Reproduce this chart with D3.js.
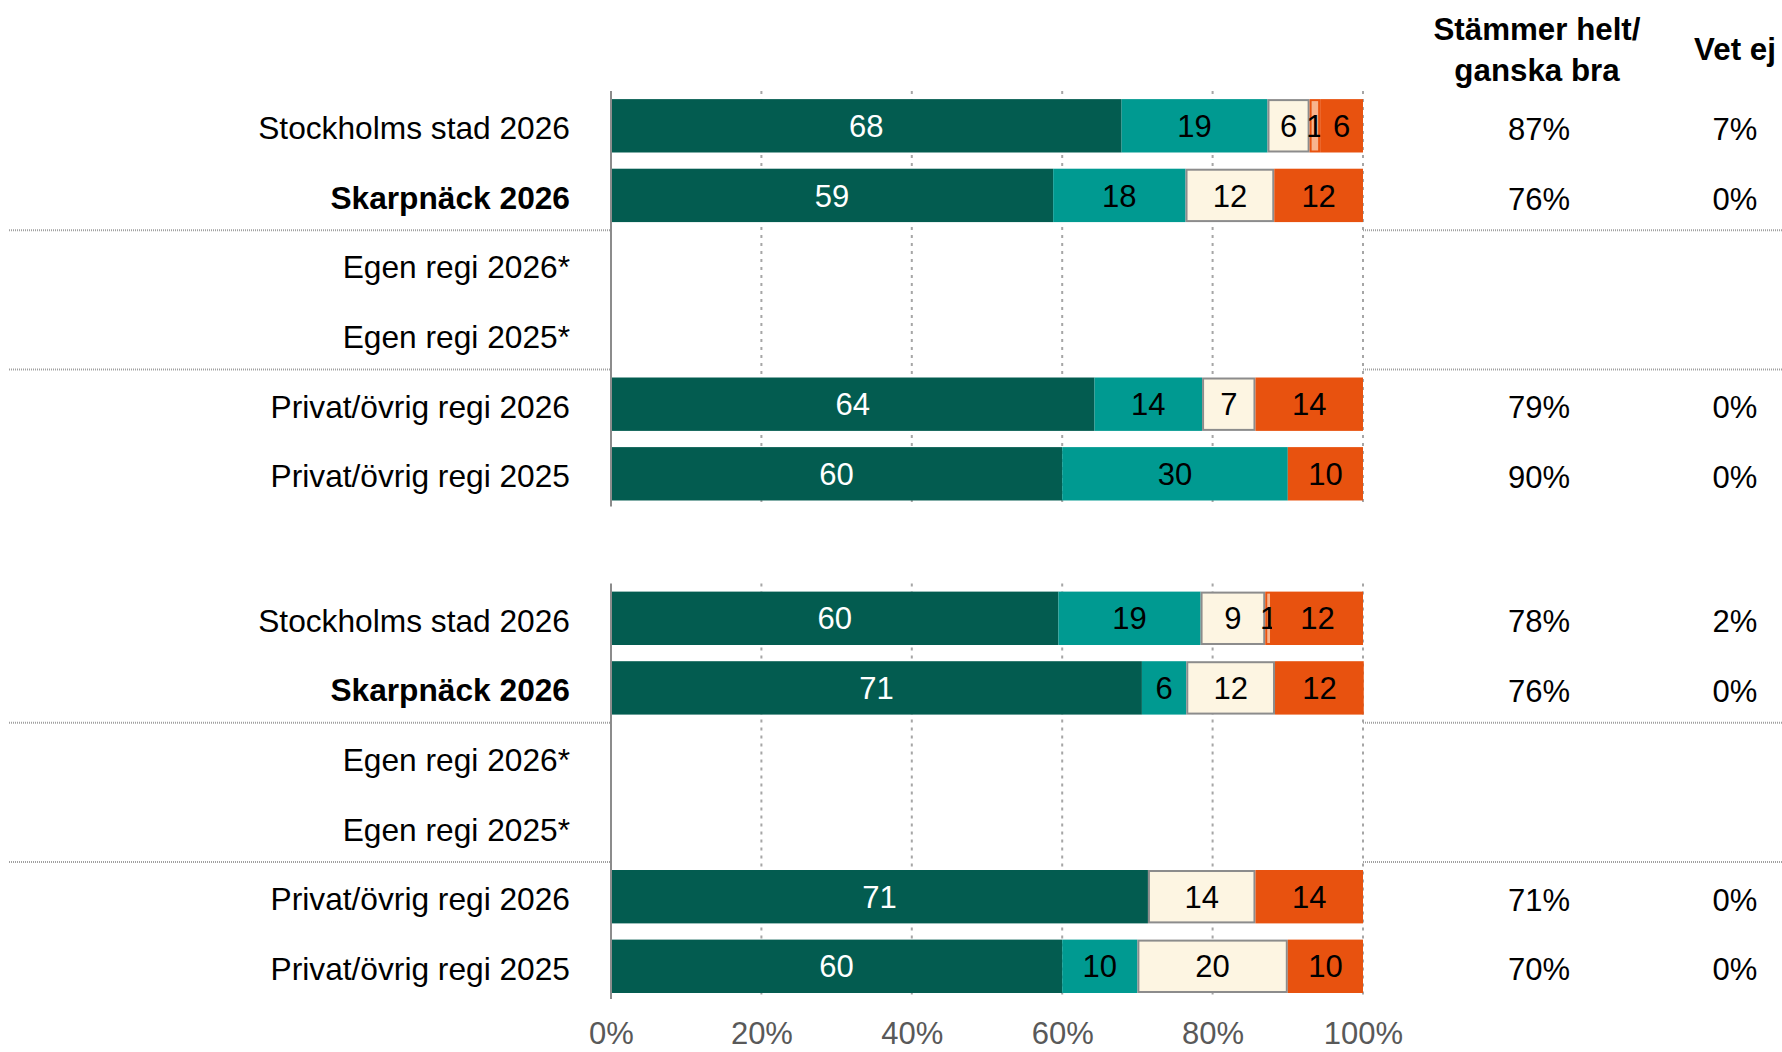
<!DOCTYPE html>
<html>
<head>
<meta charset="utf-8">
<script src="https://cdn.jsdelivr.net/npm/d3@7"></script>
<style>
  html, body { margin: 0; padding: 0; background: #ffffff; }
  svg { display: block; font-family: "Liberation Sans", Arial, sans-serif; }
</style>
</head>
<body>
<svg id="chart" width="1782" height="1052"></svg>
<script>
// ---------- DATA ----------
const categories = ["Stockholms stad 2026", "Skarpnäck 2026", "Egen regi 2026*", "Egen regi 2025*", "Privat/övrig regi 2026", "Privat/övrig regi 2025"];
const boldCategory = "Skarpnäck 2026";
const seriesKeys = ["s1", "s2", "s3", "s4", "s5"];

// Panel 1
const p1_s1 = [67.9, 58.8, null, null, 64.3, 60];
const p1_s2 = [19.4, 17.6, null, null, 14.3, 30];
const p1_s3 = [5.6, 11.8, null, null, 7.1, 0];
const p1_s4 = [1.4, 0, null, null, 0, 0];
const p1_s5 = [5.7, 11.8, null, null, 14.3, 10];
const p1_total = ["87%", "76%", "", "", "79%", "90%"];
const p1_vetej = ["7%", "0%", "", "", "0%", "0%"];

// Panel 2
const p2_s1 = [59.5, 70.6, null, null, 71.4, 60];
const p2_s2 = [18.9, 5.9, null, null, 0, 10];
const p2_s3 = [8.6, 11.8, null, null, 14.3, 20];
const p2_s4 = [0.9, 0, null, null, 0, 0];
const p2_s5 = [12.1, 11.8, null, null, 14.3, 10];
const p2_total = ["78%", "76%", "", "", "71%", "70%"];
const p2_vetej = ["2%", "0%", "", "", "0%", "0%"];

const xTicks = [0, 20, 40, 60, 80, 100];
const headerTotal = ["Stämmer helt/", "ganska bra"];
const headerVetej = "Vet ej";

// ---------- STYLE ----------
const colors = { s1: "#035c50", s2: "#009a91", s3: "#fdf5e2", s4: "#f8b48e", s5: "#e8520f" };
const strokes = { s1: "none", s2: "none", s3: "#8c8c8c", s4: "#e8520f", s5: "none" };
const textColors = { s1: "#ffffff", s2: "#000000", s3: "#000000", s4: "#000000", s5: "#000000" };
const FONT = 31;
const CAT_FONT = 31.7;

const svg = d3.select("#chart");
const x = d3.scaleLinear().domain([0, 100]).range([611, 1363]);

const panels = [
  { range: [91, 508.6], s: [p1_s1, p1_s2, p1_s3, p1_s4, p1_s5], total: p1_total, vetej: p1_vetej },
  { range: [583.5, 1001.1], s: [p2_s1, p2_s2, p2_s3, p2_s4, p2_s5], total: p2_total, vetej: p2_vetej }
];

const stack = d3.stack().keys(seriesKeys);

panels.forEach(p => {
  const y = d3.scaleBand().domain(categories).range(p.range).paddingInner(0.233).paddingOuter(0.1165);
  const g = svg.append("g");

  // gridlines
  g.selectAll("line.grid").data(xTicks.filter(t => t > 0)).join("line")
    .attr("class", "grid")
    .attr("x1", d => x(d)).attr("x2", d => x(d))
    .attr("y1", p.range[0]).attr("y2", p.range[1] - 2)
    .attr("stroke", "#a6a6a6").attr("stroke-width", 2).attr("stroke-dasharray", "3,5");

  // separators
  const sepIdx = [1, 3];
  sepIdx.forEach(i => {
    const yy = y(categories[i]) + y.bandwidth() + (y.step() - y.bandwidth()) / 2;
    [[9, x(0)], [x(100), 1782]].forEach(([a, b]) => {
      g.append("line").attr("x1", a).attr("x2", b).attr("y1", yy).attr("y2", yy)
        .attr("stroke", "#a0a0a0").attr("stroke-width", 2).attr("stroke-dasharray", "1,1");
    });
  });

  // data rows
  const rows = categories.map((c, i) => {
    const o = { cat: c };
    seriesKeys.forEach((k, j) => { o[k] = p.s[j][i] == null ? 0 : p.s[j][i]; });
    return o;
  });
  const stacked = stack(rows);

  stacked.forEach(layer => {
    const k = layer.key;
    const lg = g.append("g");
    const segs = layer.filter(d => d[1] - d[0] > 0);
    const sw = strokes[k] === "none" ? 0 : 2;
    lg.selectAll("rect").data(segs).join("rect")
      .attr("x", d => x(d[0]) + sw / 2)
      .attr("y", d => y(d.data.cat) + sw / 2)
      .attr("width", d => Math.max(0, x(d[1]) - x(d[0]) - sw))
      .attr("height", y.bandwidth() - sw)
      .attr("fill", colors[k])
      .attr("stroke", strokes[k])
      .attr("stroke-width", sw);
    lg.selectAll("text").data(segs).join("text")
      .attr("x", d => (x(d[0]) + x(d[1])) / 2)
      .attr("y", d => y(d.data.cat) + y.bandwidth() / 2)
      .attr("dy", "0.36em")
      .attr("text-anchor", "middle")
      .attr("font-size", FONT)
      .attr("fill", textColors[k])
      .text(d => Math.round(d[1] - d[0]));
  });

  // vertical axis line
  g.append("line").attr("x1", x(0)).attr("x2", x(0))
    .attr("y1", p.range[0]).attr("y2", p.range[1] - 2)
    .attr("stroke", "#8c8c8c").attr("stroke-width", 2);

  // category labels
  g.selectAll("text.cat").data(categories).join("text")
    .attr("class", "cat")
    .attr("x", 570)
    .attr("y", d => y(d) + y.bandwidth() / 2 + 2)
    .attr("dy", "0.36em")
    .attr("text-anchor", "end")
    .attr("font-size", CAT_FONT)
    .attr("font-weight", d => d === boldCategory ? "bold" : "normal")
    .attr("fill", "#000")
    .text(d => d);

  // totals
  g.selectAll("text.tot").data(categories).join("text")
    .attr("class", "tot")
    .attr("x", 1539)
    .attr("y", d => y(d) + y.bandwidth() / 2 + 3)
    .attr("dy", "0.36em")
    .attr("text-anchor", "middle")
    .attr("font-size", FONT)
    .text((d, i) => p.total[i]);
  g.selectAll("text.ve").data(categories).join("text")
    .attr("class", "ve")
    .attr("x", 1735)
    .attr("y", d => y(d) + y.bandwidth() / 2 + 3)
    .attr("dy", "0.36em")
    .attr("text-anchor", "middle")
    .attr("font-size", FONT)
    .text((d, i) => p.vetej[i]);
});

// headers
svg.append("text").attr("x", 1537).attr("y", 40).attr("text-anchor", "middle")
  .attr("font-size", 31.3).attr("font-weight", "bold").text(headerTotal[0]);
svg.append("text").attr("x", 1537).attr("y", 81).attr("text-anchor", "middle")
  .attr("font-size", 31.3).attr("font-weight", "bold").text(headerTotal[1]);
svg.append("text").attr("x", 1735).attr("y", 60).attr("text-anchor", "middle")
  .attr("font-size", 31.3).attr("font-weight", "bold").text(headerVetej);

// x axis
const xAxis = d3.axisBottom(x).tickValues(xTicks).tickFormat(d => d + "%").tickSize(0).tickPadding(2);
const ax = svg.append("g").attr("transform", "translate(0,1020)").call(xAxis);
ax.select(".domain").remove();
ax.attr("font-size", FONT).attr("font-family", "\"Liberation Sans\", Arial, sans-serif");
ax.selectAll("text").attr("font-size", FONT).attr("fill", "#595959");
</script>
</body>
</html>
